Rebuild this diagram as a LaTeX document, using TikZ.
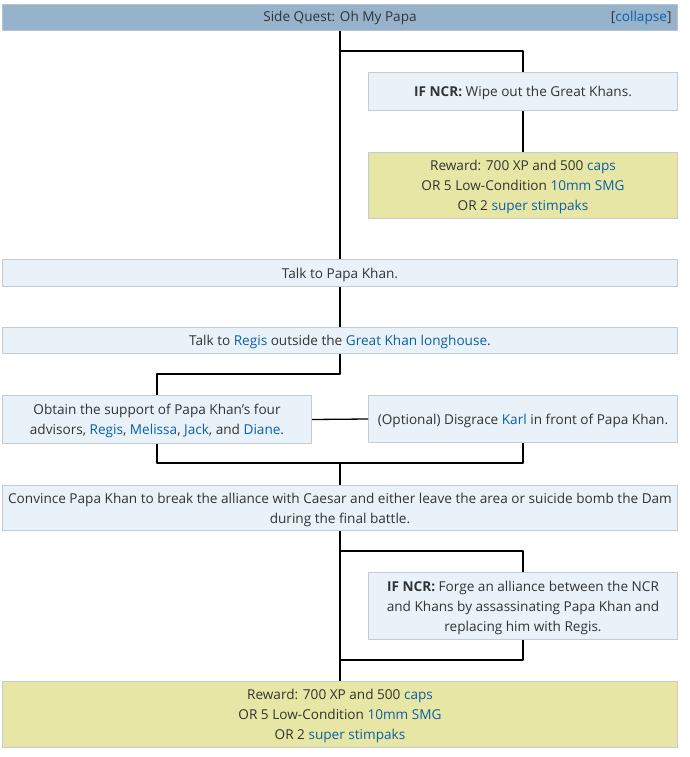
\documentclass[tikz,border=0pt]{standalone}
\usepackage{fontspec}
\setmainfont{Open Sans}
\usetikzlibrary{positioning}
\definecolor{hdrfill}{HTML}{97B3CB}
\definecolor{hdrline}{HTML}{B4C6D6}
\definecolor{stepfill}{HTML}{E8F2F8}
\definecolor{rewfill}{HTML}{E8E6A4}
\definecolor{boxline}{HTML}{C4CCD2}
\definecolor{txt}{HTML}{333333}
\definecolor{link}{HTML}{0B5FA8}
\newcommand\lnk[1]{\textcolor{link}{#1}}
\begin{document}
\begin{tikzpicture}[x=1pt, y=-1pt, font=\fontsize{13.6}{20}\selectfont, line join=round]
	\tikzset{
	box/.style={draw=boxline, line width=1pt, text=txt, align=center, inner sep=0pt, text depth=0pt, anchor=north west},
	stepbox/.style={box, fill=stepfill},
	rewbox/.style={box, fill=rewfill},
	conn/.style={black, line width=1.3pt}
	}
	\useasboundingbox (0,0) rectangle (690,757);
	% header
	\node[box, fill=hdrfill, draw=hdrline, minimum width=675, minimum height=26] (hdr) at (2,4) {};
	\node[text=txt] (title) at (340,17.5) {Side Quest: Oh My Papa};
	\node[text=txt, anchor=east] (clps) at (675,17.5) {[\lnk{collapse}]};
	% boxes
	\node[stepbox, minimum width=309, minimum height=38] (ncrA) at (368,72) {\textbf{IF NCR:} Wipe out the Great Khans.};
	\node[rewbox, minimum width=309, minimum height=66] (rewA) at (368,152) {Reward: 700 XP and 500 \lnk{caps}\\OR 5 Low-Condition \lnk{10mm SMG}\\OR 2 \lnk{super stimpaks}};
	\node[stepbox, minimum width=675, minimum height=27] (talk) at (2,259) {Talk to Papa Khan.};
	\node[stepbox, minimum width=675, minimum height=26] (regis) at (2,327) {Talk to \lnk{Regis} outside the \lnk{Great Khan longhouse}.};
	\node[stepbox, minimum width=309, minimum height=48] (advs) at (2,395) {Obtain the support of Papa Khan's four\\advisors, \lnk{Regis}, \lnk{Melissa}, \lnk{Jack}, and \lnk{Diane}.};
	\node[stepbox, minimum width=309, minimum height=47] (karl) at (368,395) {(Optional) Disgrace \lnk{Karl} in front of Papa Khan.};
	\node[stepbox, minimum width=675, minimum height=45] (conv) at (2,485) {Convince Papa Khan to break the alliance with Caesar and either leave the area or suicide bomb the Dam\\during the final battle.};
	\node[stepbox, minimum width=309, minimum height=67] (ncrB) at (368,572) {\textbf{IF NCR:} Forge an alliance between the NCR\\and Khans by assassinating Papa Khan and\\replacing him with Regis.};
	\node[rewbox, minimum width=675, minimum height=66] (rewB) at (2,681) {Reward: 700 XP and 500 \lnk{caps}\\OR 5 Low-Condition \lnk{10mm SMG}\\OR 2 \lnk{super stimpaks}};
	% junctions
	\coordinate (j1) at (340,51);
	\coordinate (j2) at (340,374);
	\coordinate (j3) at (340,463);
	\coordinate (j4) at (340,551);
	\coordinate (j5) at (340,660);
	% connectors
	\draw[conn] (hdr.south -| j1) -- (talk.north -| j1);
	\draw[conn] (j1) -| (ncrA.north);
	\draw[conn] (ncrA.south) -- (rewA.north);
	\draw[conn] (talk.south -| j1) -- (regis.north -| j1);
	\draw[conn] (regis.south -| j2) -- (j2) -| (advs.north);
	\draw[conn] (advs.east) -- (karl.west);
	\draw[conn] (advs.south) |- (j3) -| (karl.south);
	\draw[conn] (j3) -- (conv.north -| j3);
	\draw[conn] (conv.south -| j4) -- (rewB.north -| j4);
	\draw[conn] (j4) -| (ncrB.north);
	\draw[conn] (ncrB.south) |- (j5);
\end{tikzpicture}
\end{document}
